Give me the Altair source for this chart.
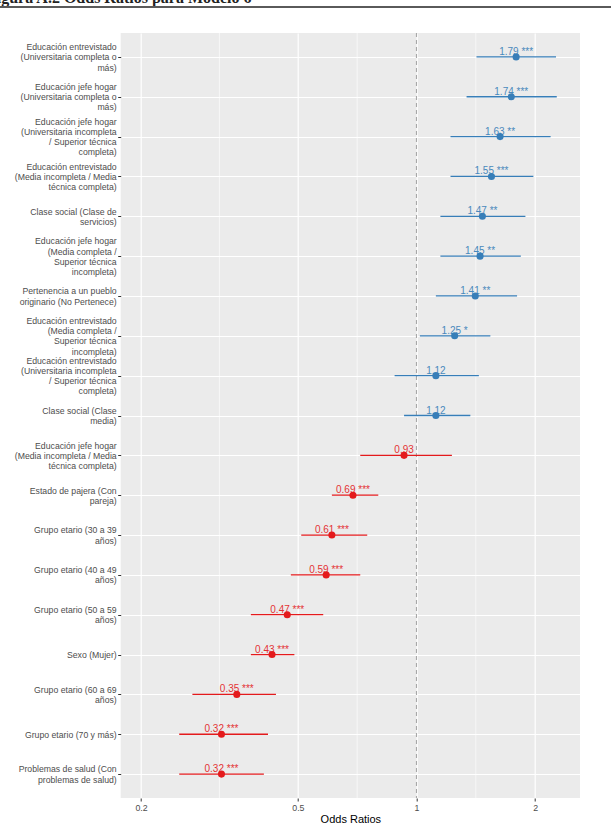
import altair as alt
import pandas as pd

terms = [
    "Educación entrevistado|(Universitaria completa o|más)",
    "Educación jefe hogar|(Universitaria completa o|más)",
    "Educación jefe hogar|(Universitaria incompleta|/ Superior técnica|completa)",
    "Educación entrevistado|(Media incompleta / Media|técnica completa)",
    "Clase social (Clase de|servicios)",
    "Educación jefe hogar|(Media completa /|Superior técnica|incompleta)",
    "Pertenencia a un pueblo|originario (No Pertenece)",
    "Educación entrevistado|(Media completa /|Superior técnica|incompleta)",
    "Educación entrevistado|(Universitaria incompleta|/ Superior técnica|completa)",
    "Clase social (Clase|media)",
    "Educación jefe hogar|(Media incompleta / Media|técnica completa)",
    "Estado de pajera (Con|pareja)",
    "Grupo etario (30 a 39|años)",
    "Grupo etario (40 a 49|años)",
    "Grupo etario (50 a 59|años)",
    "Sexo (Mujer)",
    "Grupo etario (60 a 69|años)",
    "Grupo etario (70 y más)",
    "Problemas de salud (Con|problemas de salud)",
]
odds = [1.79, 1.74, 1.63, 1.55, 1.47, 1.45, 1.41, 1.25, 1.12, 1.12,
        0.93, 0.69, 0.61, 0.59, 0.47, 0.43, 0.35, 0.32, 0.32]
ci_low = [1.42, 1.34, 1.22, 1.22, 1.15, 1.15, 1.12, 1.02, 0.88, 0.93,
          0.72, 0.61, 0.51, 0.48, 0.38, 0.38, 0.27, 0.25, 0.25]
ci_high = [2.26, 2.27, 2.19, 1.98, 1.89, 1.84, 1.80, 1.54, 1.44, 1.37,
           1.23, 0.80, 0.75, 0.72, 0.58, 0.49, 0.44, 0.42, 0.41]
stars = ["***", "***", "**", "***", "**", "**", "**", "*", "", "",
         "", "***", "***", "***", "***", "***", "***", "***", "***"]

x_ticks = [0.2, 0.5, 1, 2]
minor_breaks = [0.3162, 0.7071, 1.4142]
ref_line = [1]
fig_title = "Figura A.2 Odds Ratios para Modelo 6"

df = pd.DataFrame({
    "term": terms,
    "or": odds,
    "low": ci_low,
    "high": ci_high,
    "label": [f"{o:.2f} {s}".strip() for o, s in zip(odds, stars)],
    "dir": ["pos" if o > 1 else "neg" for o in odds],
})

W, H = 459.3, 765
PL, PT = 120.7, 33
LH = 10.2

xscale = alt.Scale(type="log", domain=[0.1776, 2.60], nice=False, zero=False)
yscale = alt.Scale(type="point", padding=0.6)
color = alt.Color("dir:N", scale=alt.Scale(domain=["pos", "neg"], range=["#377EB8", "#E41A1C"]), legend=None)

nlines = "length(split(datum.value, '|'))"
label_offset = {
    "condition": [
        {"test": f"{nlines} == 4", "value": -1.5 * LH},
        {"test": f"{nlines} == 3", "value": -1.0 * LH},
        {"test": f"{nlines} == 2", "value": -0.5 * LH},
    ],
    "value": 0,
}

xaxis = alt.Axis(values=x_ticks, title="Odds Ratios", grid=True, gridColor="white", gridWidth=1.2,
                 domain=False, tickColor="#333333", tickSize=3, tickWidth=1,
                 labelColor="#4D4D4D", labelFontSize=8.8, labelFont="Liberation Sans",
                 labelPadding=2, labelFlush=False, labelExpr="format(datum.value, '')",
                 titleFont="Liberation Sans", titleFontSize=11, titleColor="#000000",
                 titleFontWeight="normal", titleBaseline="alphabetic", titleY=24.5)
yaxis = alt.Axis(title=None, grid=True, gridColor="white", gridWidth=1.2, domain=False,
                 tickColor="#333333", tickSize=3, tickWidth=1,
                 labelColor="#4D4D4D", labelFontSize=8.7, labelFont="Liberation Sans",
                 labelLineHeight=LH, labelPadding=1.5, labelAlign="right",
                 labelBaseline="middle", labelOverlap=False, labelLimit=200,
                 labelOffset=label_offset,
                 labelExpr="split(datum.value, '|')")

base = alt.Chart(df).encode(
    y=alt.Y("term:N", sort=terms, scale=yscale, axis=yaxis),
    color=color,
)

minor = alt.Chart(pd.DataFrame({"v": minor_breaks})).mark_rule(color="white", strokeWidth=0.6).encode(
    x=alt.X("v:Q", scale=xscale, axis=xaxis)
)
ref = alt.Chart(pd.DataFrame({"v": ref_line})).mark_rule(color="#A8A8A8", strokeWidth=1.1, strokeDash=[4, 3]).encode(
    x=alt.X("v:Q", scale=xscale, axis=xaxis)
)
bars = base.mark_rule(strokeWidth=1.3).encode(
    x=alt.X("low:Q", scale=xscale, axis=xaxis), x2="high:Q"
)
points = base.mark_point(filled=True, size=50, opacity=1, shape="circle").encode(
    x=alt.X("or:Q", scale=xscale, axis=xaxis)
)
texts = base.mark_text(align="center", baseline="alphabetic", dy=-2, fontSize=10,
                       font="Liberation Sans", opacity=0.9).encode(
    x=alt.X("or:Q", scale=xscale, axis=xaxis), text="label:N"
)

top_title = alt.Chart(pd.DataFrame({"t": [fig_title]})).mark_text(
    align="left", baseline="alphabetic", font="Liberation Serif", fontWeight="bold",
    fontSize=16, color="#222222"
).encode(x=alt.value(-PL - 13), y=alt.value(2.5 - PT), text="t:N")
top_line = alt.Chart(pd.DataFrame({"t": [0]})).mark_rule(color="#5A5A5A", strokeWidth=1.8).encode(
    x=alt.value(-PL), x2=alt.value(611 - PL), y=alt.value(7 - PT)
)

chart = alt.layer(minor, ref, bars, points, texts, top_title, top_line).properties(
    width=W, height=H,
    padding={"left": PL, "top": PT, "right": 611 - PL - W, "bottom": 824 - PT - H},
    autosize=alt.AutoSizeParams(type="none"),
    background="white",
).configure_view(fill="#EBEBEB", stroke=None)

chart.save("out.html", embed_options={"renderer": "svg", "actions": False})
